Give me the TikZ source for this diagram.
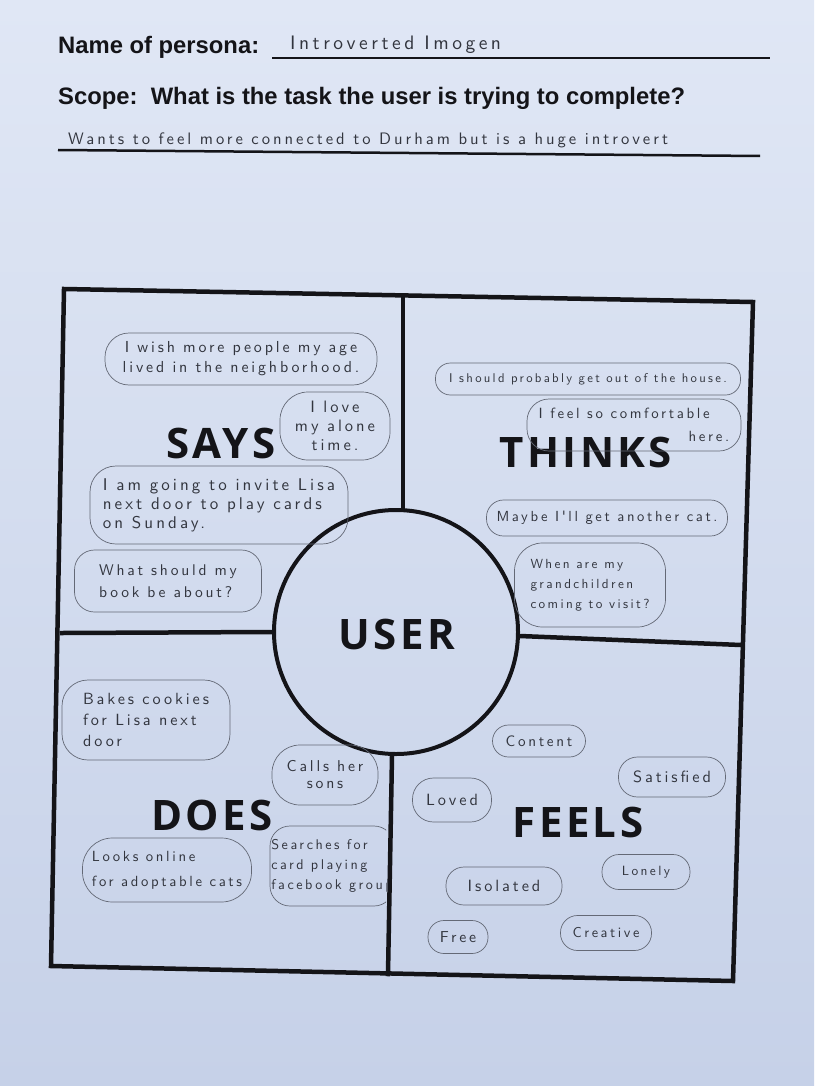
\documentclass[tikz,border=0pt]{standalone}
\usepackage{fontspec}
\setmainfont{Liberation Sans}
\newfontfamily\quadfont{Open Sans}[LetterSpace=8]
\newfontfamily\handfont{lmsans10-regular.otf}[LetterSpace=18]
\newcommand\hfs[2]{\handfont\fontsize{#1}{#2}\selectfont}
\definecolor{paperT}{RGB}{224,231,245}
\definecolor{paperB}{RGB}{198,209,232}
\definecolor{ink}{RGB}{20,20,24}
\definecolor{pen}{RGB}{50,53,62}
\definecolor{pencil}{RGB}{100,105,118}
\begin{document}
\begin{tikzpicture}[x=1pt,y=-1pt,
  frame/.style={line width=4.5pt, draw=ink, line cap=rect},
  quad/.style={font=\quadfont\bfseries\fontsize{42}{42}\selectfont, text=ink, inner sep=0pt},
  head/.style={font=\bfseries\fontsize{23.8}{24}\selectfont, text=ink, inner sep=0pt, anchor=base west},
  hw/.style={text=pen, inner sep=0pt, anchor=base west},
  bub/.style={draw=pencil, line width=0.7pt, rounded corners=14pt, text=pen, inner sep=0pt, align=left},
  pill/.style={bub, rounded corners=16pt},
]
\shade[top color=paperT, bottom color=paperB] (0,0) rectangle (814,1086);
\useasboundingbox (0,0) rectangle (814,1086);

% header
\node[head] (name) at (58,54) {Name of persona:};
\coordinate (nl1) at (272,58);
\coordinate (nl2) at (770,58);
\draw[line width=2.5pt, ink] (nl1) -- (nl2);
\node[hw, font=\hfs{19.5}{22}] (persona) at (290,50) {Introverted Imogen};
\node[head] (scope) at (58,105) {Scope:\ \ What is the task the user is trying to complete?};
\node[hw, font=\hfs{16.6}{20}] (task) at (68,145) {Wants to feel more connected to Durham but is a huge introvert};
\coordinate (sl1) at (58,150);
\coordinate (sl2) at (760,156);
\draw[line width=2.5pt, ink] (sl1) -- (sl2);

% frame
\coordinate (TL) at (64,289);
\coordinate (TR) at (753,302);
\coordinate (BR) at (733,981);
\coordinate (BL) at (51,966);
\draw[frame, line join=miter] (TL) -- (TR) -- (BR) -- (BL) -- cycle;
\node[draw=ink, line width=4pt, circle, minimum size=244pt, inner sep=0pt] (user) at (396,632) {};
\coordinate (vt) at (403,295);
\coordinate (vb) at (388,974);
\coordinate (hl) at (62,633);
\coordinate (hr) at (741,645);
\draw[frame] (vt) -- (vt |- user.north);
\draw[frame] (user.south) ++(-4,0) -- (vb);
\draw[frame] (hl) -- (user.west);
\draw[frame] (user.east) ++(0,4) -- (hr);

% quadrant labels
\node[quad] (says) at (221,443) {SAYS};
\node[quad] (thinks) at (586,452) {THINKS};
\node[quad] (usertxt) at (397,634) {USER};
\node[quad] (does) at (212,815) {DOES};
\node[quad] (feels) at (578,822) {FEELS};

% SAYS bubbles
\node[bub, minimum width=272pt, minimum height=52pt, rounded corners=24pt, align=center, font=\hfs{15.9}{20}] (s1) at (241,359) {I wish more people my age\\lived in the neighborhood.};
\node[bub, minimum width=110pt, minimum height=68pt, rounded corners=28pt, align=center, font=\hfs{16.5}{19}] (s2) at (335,426) {I love\\my alone\\time.};
\node[bub, minimum width=258pt, minimum height=78pt, rounded corners=26pt, font=\hfs{17}{19}] (s3) at (219,505) {I am going to invite Lisa\\next door to play cards\\on Sunday.};
\node[bub, minimum width=187pt, minimum height=62pt, rounded corners=20pt, font=\hfs{15.5}{22}] (s4) at (168,581) {What should my\\book be about?};

% THINKS bubbles
\node[bub, minimum width=305pt, minimum height=32pt, rounded corners=15pt, font=\hfs{12.7}{16}] (t1) at (588,379) {I should probably get out of the house.};
\node[bub, minimum width=214pt, minimum height=52pt, rounded corners=22pt, align=left, font=\hfs{14.8}{23}] (t2) at (634,425) {I feel so comfortable\\\hspace*{150pt}here.};
\node[bub, minimum width=241pt, minimum height=36pt, rounded corners=17pt, font=\hfs{14.6}{18}] (t3) at (607,518) {Maybe I'll get another cat.};
\node[bub, minimum width=151pt, minimum height=84pt, rounded corners=28pt, font=\hfs{13.2}{20}] (t4) at (590,585) {When are my\\grandchildren\\coming to visit?};

% DOES bubbles
\node[bub, minimum width=168pt, minimum height=80pt, rounded corners=26pt, font=\hfs{16.2}{21}] (d1) at (146,720) {Bakes cookies\\for Lisa next\\door};
\node[bub, minimum width=106pt, minimum height=60pt, rounded corners=28pt, align=center, font=\hfs{15.7}{17}] (d2) at (325,775) {Calls her\\sons};
\node[bub, minimum width=169pt, minimum height=64pt, rounded corners=30pt, font=\hfs{14.7}{25}] (d3) at (167,870) {Looks online\\for adoptable cats};
\begin{scope}
\clip (260,800) rectangle (386,920);
\node[bub, minimum width=124pt, minimum height=80pt, rounded corners=20pt, font=\hfs{14.1}{20}] (d4) at (332,866) {Searches for\\card playing\\facebook group};
\end{scope}

% FEELS bubbles
\node[pill, minimum width=93pt, minimum height=32pt, font=\hfs{15.1}{18}] (f1) at (539,741) {Content};
\node[pill, minimum width=107pt, minimum height=40pt, rounded corners=19pt, font=\hfs{16.3}{18}] (f2) at (672,777) {Satisfied};
\node[pill, minimum width=79pt, minimum height=44pt, rounded corners=21pt, font=\hfs{16.3}{18}] (f3) at (452,800) {Loved};
\node[pill, minimum width=116pt, minimum height=38pt, rounded corners=18pt, font=\hfs{16.3}{18}] (f4) at (504,886) {Isolated};
\node[pill, minimum width=88pt, minimum height=35pt, rounded corners=17pt, font=\hfs{13.4}{18}] (f5) at (646,872) {Lonely};
\node[pill, minimum width=60pt, minimum height=33pt, rounded corners=16pt, font=\hfs{15.8}{18}] (f6) at (458,937) {Free};
\node[pill, minimum width=91pt, minimum height=35pt, rounded corners=17pt, font=\hfs{14.3}{18}] (f7) at (606,933) {Creative};
\end{tikzpicture}
\end{document}
